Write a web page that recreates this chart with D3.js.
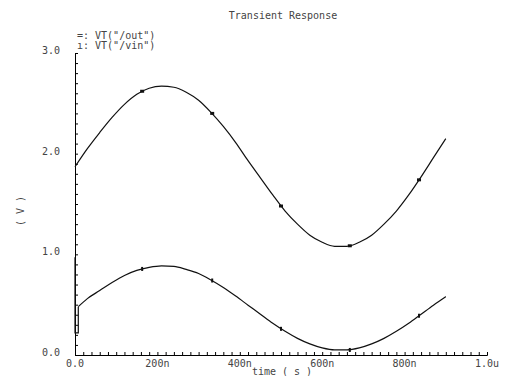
<!DOCTYPE html>
<html>
<head>
<meta charset="utf-8">
<script src="https://cdn.jsdelivr.net/npm/d3@7"></script>
<style>
  body { margin: 0; background: #fff; }
  text { font-family: "DejaVu Sans Mono", monospace; font-size: 10px; fill: #444; }
</style>
</head>
<body>
<div id="chart"></div>
<script>
//chart data, time in ns, voltage in V
const times = [0, 30, 60, 90, 120, 150, 180, 210, 240, 270, 300, 330, 360, 390, 420, 450,
  480, 510, 540, 570, 600, 630, 660, 690, 720, 750, 780, 810, 840, 870, 900];
const outValues = [1.87, 2.05, 2.21, 2.36, 2.49, 2.59, 2.65, 2.67, 2.66, 2.61, 2.53, 2.41, 2.27,
  2.11, 1.93, 1.76, 1.59, 1.43, 1.30, 1.19, 1.12, 1.08, 1.08, 1.12, 1.19, 1.30, 1.43, 1.59, 1.77, 1.96, 2.15];
const vinValues = [0.47, 0.56, 0.64, 0.72, 0.79, 0.84, 0.87, 0.885, 0.88, 0.85, 0.81, 0.745, 0.67,
  0.585, 0.495, 0.405, 0.315, 0.235, 0.165, 0.11, 0.07, 0.05, 0.05, 0.07, 0.11, 0.165, 0.235, 0.315, 0.405, 0.495, 0.58];

//start-up glitch on vin
const glitchTimes = [0, 0, 8, 8];
const glitchValues = [0.97, 0.22, 0.22, 0.48];

//marker points on each trace
const markerTimes = [163, 333, 500, 667, 835];
const outMarkers = [2.62, 2.40, 1.48, 1.085, 1.74];
const vinMarkers = [0.855, 0.74, 0.26, 0.05, 0.39];

const xTicks = [0, 200, 400, 600, 800, 1000];
const xTickLabels = ["0.0", "200n", "400n", "600n", "800n", "1.0u"];
const yTicks = [0, 1, 2, 3];
const yTickLabels = ["0.0", "1.0", "2.0", "3.0"];

const width = 507;
const height = 376;

const svg = d3.select("#chart")
  .append("svg")
  .attr("width", width)
  .attr("height", height);

//scales
const x = d3.scaleLinear().domain([0, 1000]).range([75, 487]);
const y = d3.scaleLinear().domain([0, 3]).range([355, 53]);

//axes, ticks point inward
const xAxis = d3.axisTop(x)
  .tickValues(d3.range(0, 1001, 20))
  .tickSize(3)
  .tickFormat("");
svg.append("g")
  .attr("transform", `translate(0,${y(0)})`)
  .call(xAxis);

const yAxis = d3.axisRight(y)
  .tickValues(d3.range(0, 31).map(d => d / 10))
  .tickSize(3)
  .tickFormat("");
svg.append("g")
  .attr("transform", `translate(${x(0)},0)`)
  .call(yAxis);

svg.selectAll(".domain").attr("stroke", "#000").attr("stroke-width", 1);
svg.selectAll(".tick line").attr("stroke", "#000");

//tick labels
svg.selectAll(".xlabel")
  .data(xTicks)
  .enter()
  .append("text")
  .attr("x", d => x(d))
  .attr("y", y(0) + 12)
  .attr("text-anchor", "middle")
  .text((d, i) => xTickLabels[i]);

svg.selectAll(".ylabel")
  .data(yTicks)
  .enter()
  .append("text")
  .attr("x", 60)
  .attr("y", d => y(d) + 1)
  .attr("text-anchor", "end")
  .text((d, i) => yTickLabels[i]);

//traces
const line = d3.line()
  .x(d => x(d[0]))
  .y(d => y(d[1]))
  .curve(d3.curveMonotoneX);

svg.append("path")
  .datum(times.map((t, i) => [t, outValues[i]]))
  .attr("fill", "none")
  .attr("stroke", "#111")
  .attr("stroke-width", 1.2)
  .attr("d", line);

//glitch drawn with straight segments, then the smooth part
svg.append("path")
  .datum(glitchTimes.map((t, i) => [t, glitchValues[i]]))
  .attr("fill", "none")
  .attr("stroke", "#111")
  .attr("stroke-width", 1.2)
  .attr("d", line.curve(d3.curveLinear));

const vinData = [[8, 0.48]].concat(times.slice(1).map((t, i) => [t, vinValues[i + 1]]));
svg.append("path")
  .datum(vinData)
  .attr("fill", "none")
  .attr("stroke", "#111")
  .attr("stroke-width", 1.2)
  .attr("d", line.curve(d3.curveMonotoneX));

//markers
svg.selectAll(".outmark")
  .data(markerTimes)
  .enter()
  .append("rect")
  .attr("x", d => x(d) - 2)
  .attr("y", (d, i) => y(outMarkers[i]) - 1.5)
  .attr("width", 4)
  .attr("height", 3)
  .attr("fill", "#111");

svg.selectAll(".vinmark")
  .data(markerTimes)
  .enter()
  .append("rect")
  .attr("x", d => x(d) - 1)
  .attr("y", (d, i) => y(vinMarkers[i]) - 2)
  .attr("width", 2)
  .attr("height", 4)
  .attr("fill", "#111");

//title, legend and axis names
svg.append("text")
  .attr("x", 283)
  .attr("y", 19)
  .attr("text-anchor", "middle")
  .text("Transient Response");

svg.append("text")
  .attr("x", 77)
  .attr("y", 39)
  .text("=: VT(\"/out\")");

svg.append("text")
  .attr("x", 77)
  .attr("y", 49)
  .text("ı: VT(\"/vin\")");

svg.append("text")
  .attr("x", 282)
  .attr("y", 375)
  .attr("text-anchor", "middle")
  .text("time ( s )");

svg.append("text")
  .attr("transform", "translate(24,211) rotate(-90)")
  .attr("text-anchor", "middle")
  .text("( V )");
</script>
</body>
</html>
